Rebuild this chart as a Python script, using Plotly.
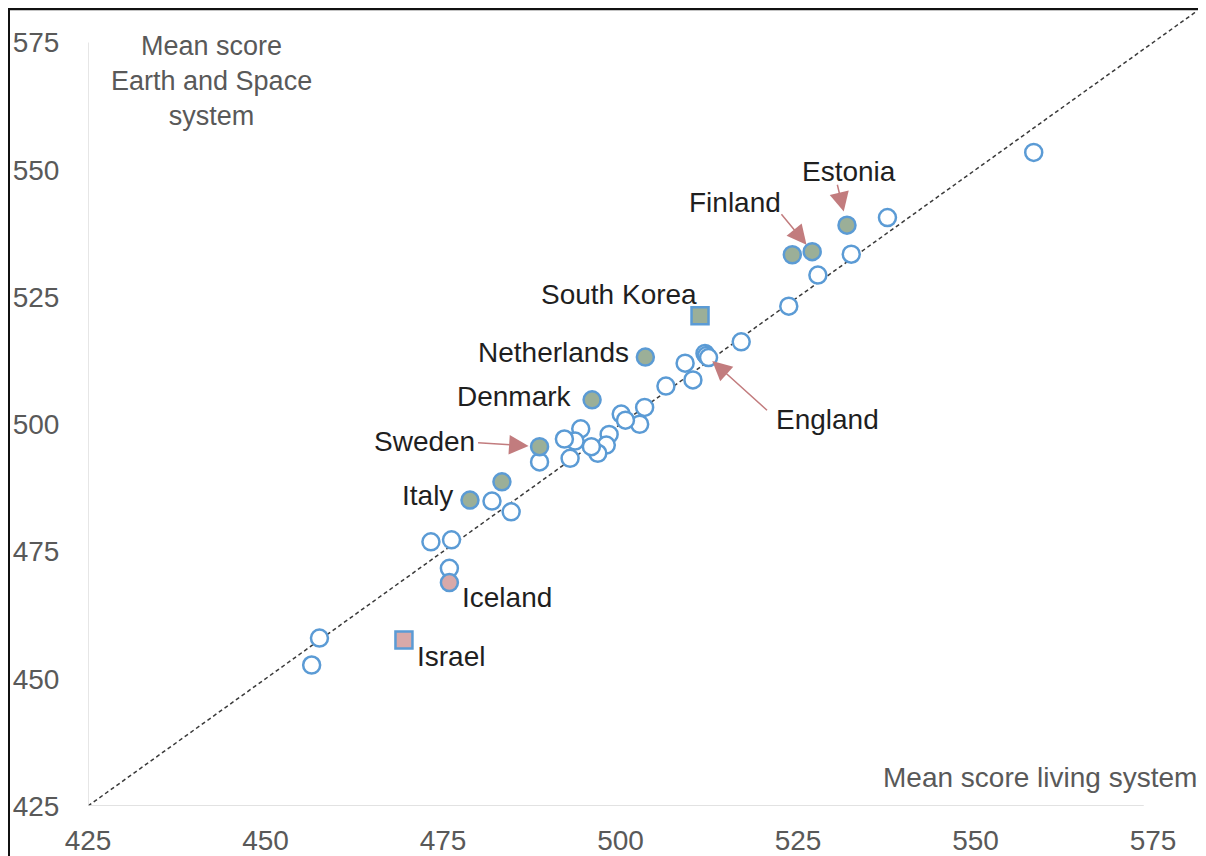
import plotly.graph_objects as go

# ---------------- data ----------------
# other countries (open circles): living system score, Earth & space score
other_living = [558.2, 537.6, 532.5, 527.8, 523.7, 517.0, 511.9, 512.1, 512.4, 509.1,
                510.2, 506.4, 503.4, 502.7, 500.1, 500.7, 498.4, 498.0, 496.8, 495.9,
                494.4, 493.6, 492.1, 492.9, 488.6, 484.6, 481.9, 476.2, 473.3, 475.9,
                457.6, 456.5]
other_earth = [553.4, 540.6, 533.4, 529.3, 523.2, 516.2, 513.9, 513.5, 513.1, 512.0,
               508.7, 507.5, 503.3, 500.0, 502.0, 500.8, 498.0, 495.9, 494.3, 495.6,
               499.1, 496.7, 497.1, 493.3, 492.6, 482.8, 484.9, 477.3, 476.9, 471.7,
               458.0, 452.7]

# highlighted (green) circles
green_names = ["Estonia", "Finland", "", "Netherlands", "Denmark", "Sweden", "", "Italy"]
green_living = [531.9, 527.0, 524.2, 503.5, 496.0, 488.6, 483.3, 478.8]
green_earth = [539.1, 533.9, 533.3, 513.2, 504.8, 495.6, 488.7, 485.1]

# South Korea (green square)
korea_living = [511.2]
korea_earth = [521.3]

# Iceland (pink circle) and Israel (pink square)
iceland_living = [475.9]
iceland_earth = [468.9]
israel_living = [469.5]
israel_earth = [457.6]

# England (one of the cluster of open circles)
england_living = 512.4
england_earth = 513.1

tick_vals = [425, 450, 475, 500, 525, 550, 575]
diag = [425, 600]

# ---------------- style ----------------
BLUE = "#5B9BD5"
GREEN = "#9BAF98"
PINK = "#D8A9A9"
ARROW = "#C27C7E"
GREY_TXT = "#595959"
TXT = "#1f1f1f"
FONT = "Liberation Sans, Arial, sans-serif"
FS = 28

OFF = 8  # page body margin of the browser
W, H = 1206 - OFF, 856 - OFF
ML, MR, MT, MB = 88 - OFF, 3, 12 - OFF, 50
PW, PH = W - ML - MR, H - MT - MB
XPX, YPX = 7.1, 5.09  # pixels per score point


def px_x(px):
    """reference-screen pixel -> paper x"""
    return (px - OFF - ML) / PW


def px_y(py):
    """reference-screen pixel -> paper y"""
    return (H - MB - (py - OFF)) / PH


fig = go.Figure()

# diagonal y = x
fig.add_trace(go.Scatter(x=diag, y=diag, mode="lines",
                         line=dict(color="#3a3a3a", width=1.5, dash="4px,3px"),
                         hoverinfo="skip", showlegend=False))

MS, LW = 17, 2.5
fig.add_trace(go.Scatter(x=other_living, y=other_earth, mode="markers",
                         marker=dict(symbol="circle", size=MS, color="white",
                                     line=dict(color=BLUE, width=LW)),
                         showlegend=False))

fig.add_trace(go.Scatter(x=green_living, y=green_earth, mode="markers",
                         marker=dict(symbol="circle", size=MS, color=GREEN,
                                     line=dict(color=BLUE, width=LW)),
                         showlegend=False))

fig.add_trace(go.Scatter(x=korea_living, y=korea_earth, mode="markers",
                         marker=dict(symbol="square", size=MS, color=GREEN,
                                     line=dict(color=BLUE, width=LW)),
                         showlegend=False))

fig.add_trace(go.Scatter(x=iceland_living, y=iceland_earth, mode="markers",
                         marker=dict(symbol="circle", size=MS, color=PINK,
                                     line=dict(color=BLUE, width=LW)),
                         showlegend=False))

fig.add_trace(go.Scatter(x=israel_living, y=israel_earth, mode="markers",
                         marker=dict(symbol="square", size=MS, color=PINK,
                                     line=dict(color=BLUE, width=LW)),
                         showlegend=False))

annotations = []


def label(text, x, y, dx, dy):
    annotations.append(dict(x=x, y=y, xref="x", yref="y", text=text, showarrow=False,
                            xshift=dx, yshift=dy, xanchor="center", yanchor="middle",
                            font=dict(family=FONT, size=FS, color=TXT)))


def arrow(x, y, ax, ay, standoff):
    annotations.append(dict(x=x, y=y, xref="x", yref="y", text="", showarrow=True,
                            ax=ax, ay=ay, axref="pixel", ayref="pixel",
                            arrowhead=2, arrowsize=2.6, arrowwidth=1.5,
                            arrowcolor=ARROW, standoff=standoff))


g = {n: (xv, yv) for n, xv, yv in zip(green_names, green_living, green_earth) if n}

label("Estonia", *g["Estonia"], 2, 54)
arrow(*g["Estonia"], -10, -42, 14)
label("Finland", *g["Finland"], -77, 49)
arrow(*g["Finland"], -32, -39, 9)
label("South Korea", korea_living[0], korea_earth[0], -81, 21)
label("Netherlands", *g["Netherlands"], -92, 5)
label("Denmark", *g["Denmark"], -78, 3)
label("Sweden", *g["Sweden"], -115, 5)
arrow(*g["Sweden"], -63, -4, 11)
label("Italy", *g["Italy"], -42, 5)
label("Iceland", iceland_living[0], iceland_earth[0], 58, -15)
label("Israel", israel_living[0], israel_earth[0], 47, -16)
label("England", england_living, england_earth, 119, -62)
arrow(england_living, england_earth, 60, 54, 5)

# axis titles
annotations.append(dict(x=px_x(211), y=px_y(81), xref="paper", yref="paper",
                        text="Mean score<br>Earth and Space<br>system", showarrow=False,
                        xanchor="center", yanchor="middle", align="center",
                        font=dict(family=FONT, size=27, color=GREY_TXT)))
annotations.append(dict(x=px_x(1199), y=px_y(777), xref="paper", yref="paper",
                        text="Mean score living system", showarrow=False,
                        xanchor="right", yanchor="middle",
                        font=dict(family=FONT, size=FS, color=GREY_TXT)))

shapes = [
    # axis lines
    dict(type="line", xref="x", yref="y", x0=425, x1=425, y0=425, y1=575,
         line=dict(color="#D9D9D9", width=1.3)),
    dict(type="line", xref="x", yref="y", x0=425, x1=573.7, y0=425, y1=425,
         line=dict(color="#D9D9D9", width=1.3)),
    # frame
    dict(type="line", xref="paper", yref="paper", x0=px_x(6), x1=px_x(1206),
         y0=px_y(8.7), y1=px_y(8.7), line=dict(color="#111111", width=3)),
    dict(type="line", xref="paper", yref="paper", x0=px_x(8.5), x1=px_x(8.5),
         y0=px_y(7.5), y1=px_y(860), line=dict(color="#111111", width=3)),
    dict(type="line", xref="paper", yref="paper", x0=px_x(1204), x1=px_x(1204),
         y0=px_y(10), y1=px_y(860), line=dict(color="#8c8c8c", width=1.3)),
]

fig.update_layout(
    width=W, height=H,
    margin=dict(l=ML, r=MR, t=MT, b=MB, autoexpand=False),
    paper_bgcolor="white", plot_bgcolor="white",
    showlegend=False,
    annotations=annotations,
    shapes=shapes,
    font=dict(family=FONT),
)
fig.update_xaxes(range=[425, 425 + PW / XPX], tickvals=tick_vals,
                 ticktext=[str(v) for v in tick_vals],
                 showgrid=False, zeroline=False, showline=False,
                 ticks="outside", ticklen=0, ticklabelstandoff=9,
                 tickfont=dict(family=FONT, size=FS, color=GREY_TXT))
fig.update_yaxes(range=[425, 425 + PH / YPX], tickvals=tick_vals,
                 ticktext=[str(v) for v in tick_vals],
                 showgrid=False, zeroline=False, showline=False,
                 ticks="outside", ticklen=0, ticklabelstandoff=22,
                 tickfont=dict(family=FONT, size=FS, color=GREY_TXT))

fig.write_html("out.html")
